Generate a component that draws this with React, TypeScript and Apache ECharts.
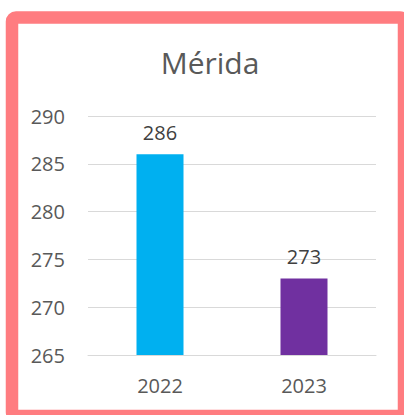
import React, { useEffect, useRef } from "react";
import * as echarts from "echarts";

const categories = ["2022", "2023"];
const values = [286, 273];
const barColors = ["#00B0F0", "#7030A0"];
const titleText = "Mérida";

export default function App() {
  const ref = useRef<HTMLDivElement>(null);
  useEffect(() => {
    if (!ref.current) return;
    const chart = echarts.init(ref.current, undefined, { renderer: "svg" });
    const font = "'Open Sans', 'Noto Sans', sans-serif";
    chart.setOption({
      animation: false,
      backgroundColor: "#ffffff",
      title: {
        text: titleText,
        left: 205,
        textAlign: "center",
        top: 42,
        textStyle: { fontFamily: font, fontSize: 30, fontWeight: "normal", color: "#595959" },
      },
      grid: { left: 88, right: 28, top: 116, bottom: 60, containLabel: false },
      xAxis: {
        type: "category",
        data: categories,
        axisLine: { show: true, lineStyle: { color: "#d9d9d9", width: 1 } },
        axisTick: { show: false },
        axisLabel: { fontFamily: font, fontSize: 20, color: "#595959", margin: 20 },
      },
      yAxis: {
        type: "value",
        min: 265,
        max: 290,
        interval: 5,
        axisLine: { show: false },
        axisTick: { show: false },
        splitLine: { lineStyle: { color: "#d9d9d9", width: 1 } },
        axisLabel: { fontFamily: font, fontSize: 20, color: "#595959", margin: 23 },
      },
      series: [
        {
          type: "bar",
          barWidth: 47,
          data: values.map((v, i) => ({ value: v, itemStyle: { color: barColors[i] } })),
          label: {
            show: true,
            position: "top",
            distance: 12,
            fontFamily: font,
            fontSize: 20,
            color: "#404040",
          },
        },
      ],
      graphic: [
        {
          type: "rect",
          silent: true,
          z: 100,
          shape: { x: 12, y: 17.5, width: 392, height: 398.5, r: 4 },
          style: { fill: "none", stroke: "#FF7C80", lineWidth: 12.5 },
        },
      ],
    });
    return () => chart.dispose();
  }, []);
  return (
    <div
      ref={ref}
      style={{ position: "fixed", left: 0, top: 0, width: 404, height: 415 }}
    />
  );
}
